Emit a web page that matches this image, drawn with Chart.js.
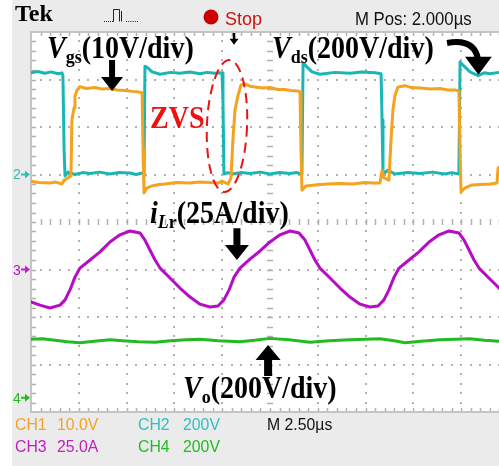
<!DOCTYPE html>
<html><head><meta charset="utf-8">
<script src="https://cdn.jsdelivr.net/npm/chart.js@4.4.1/dist/chart.umd.min.js"></script>
<style>
html,body{margin:0;padding:0;background:#fff;overflow:hidden;}
#wrap{position:relative;width:499px;height:466px;overflow:hidden;background:#fff;}
#panel{position:absolute;left:12px;top:0;width:520px;height:466px;background:#ebebeb;}
canvas{position:absolute;left:0;top:0;}
.t{position:absolute;white-space:nowrap;}
.ann{font-family:"Liberation Serif","Times New Roman",serif;font-weight:bold;font-size:28px;line-height:28px;color:#000;transform:scaleY(1.1);transform-origin:0 23.5px;}
.sub{font-size:18px;position:relative;top:5px;}
.ui{font-family:"Liberation Sans",Arial,sans-serif;font-size:17px;line-height:17px;transform:scaleX(0.93);transform-origin:0 0;}
.mk{font-family:"Liberation Sans",Arial,sans-serif;font-size:14px;line-height:14px;}
</style></head>
<body><div id="wrap"><div id="panel"></div><canvas id="c" width="520" height="466"></canvas>
<div class="t" style="left:15px;top:1px;font-family:'Liberation Serif',serif;font-weight:bold;font-size:24px;line-height:24px;">Tek</div>
<div class="t ui" style="left:225px;top:10px;font-size:18px;line-height:18px;color:#cc1111;transform:none;">Stop</div>
<div class="t ui" style="left:355px;top:10px;font-size:18px;line-height:18px;color:#111;">M Pos: 2.000µs</div>

<div class="t ann" style="left:47px;top:34.5px;"><i>V</i><span class="sub">gs</span>(10V/div)</div>
<div class="t ann" style="left:272px;top:34.5px;"><i>V</i><span class="sub">ds</span>(200V/div)</div>
<div class="t ann" style="left:150px;top:104.5px;color:#ee1111;">ZVS</div>
<div class="t ann" style="left:150px;top:199.5px;"><i>i</i><span class="sub"><i>L</i>r</span>(25A/div)</div>
<div class="t ann" style="left:183px;top:374.5px;"><i>V</i><span class="sub">o</span>(200V/div)</div>

<div class="t mk" style="left:13px;top:167px;color:#2cbcbc;">2</div>
<div class="t mk" style="left:13px;top:263px;color:#b812c4;">3</div>
<div class="t mk" style="left:13px;top:391px;color:#22bb22;">4</div>

<div id="info"></div>
</div>
<script>
// ---- channel readouts ----
const chNames  = ['CH1','CH2','CH3','CH4'];
const chScales = ['10.0V','200V','25.0A','200V'];
const chColors = ['#f2a22a','#2cc0c0','#c020c0','#22bb22'];
const timebase = 'M 2.50µs';

// ---- traces: [time (µs), screen divisions from centre] ----
const vgsTrace = [[0.00,0.86],[0.40,0.83],[0.99,0.82],[1.30,0.84],[1.62,0.80],[1.73,0.88],[1.94,0.93],[2.09,0.97],[2.14,2.15],[2.25,2.40],[2.30,2.65],[2.41,2.78],[2.56,2.85],[2.90,2.81],[3.35,2.83],[3.70,2.80],[4.13,2.81],[4.50,2.78],[4.92,2.77],[5.30,2.75],[5.60,2.74],[5.81,2.72],[5.86,1.52],[5.91,0.61],[6.07,0.72],[6.33,0.76],[6.70,0.79],[7.01,0.80],[7.60,0.83],[8.32,0.82],[8.80,0.84],[9.36,0.83],[9.78,0.82],[9.99,0.86],[10.30,0.80],[10.46,0.93],[10.56,1.73],[10.67,2.36],[10.83,2.67],[10.98,2.88],[11.19,2.91],[11.45,2.86],[11.72,2.84],[12.10,2.82],[12.50,2.83],[12.90,2.79],[13.28,2.79],[13.60,2.77],[13.96,2.76],[14.07,2.74],[14.12,1.52],[14.17,0.67],[14.38,0.76],[14.85,0.78],[15.50,0.80],[16.16,0.81],[16.80,0.80],[17.47,0.83],[17.90,0.82],[18.25,0.82],[18.36,1.09],[18.46,0.93],[18.72,0.88],[18.83,1.73],[18.93,2.36],[19.04,2.67],[19.19,2.84],[19.56,2.87],[19.90,2.83],[20.35,2.82],[20.90,2.80],[21.39,2.81],[21.80,2.78],[22.18,2.78],[22.38,2.76],[22.44,1.52],[22.49,0.63],[22.70,0.72],[23.06,0.78],[23.50,0.79],[24.01,0.80],[24.37,0.82],[24.43,1.14],[24.60,1.14]];

const vdsTrace = [[0.00,3.14],[0.35,3.17],[0.73,3.13],[1.05,3.16],[1.41,3.12],[1.62,3.14],[1.67,3.07],[1.73,1.52],[1.78,0.97],[1.94,1.05],[2.30,1.00],[2.70,1.04],[3.09,1.02],[3.60,1.05],[4.13,1.01],[4.60,1.04],[5.18,1.03],[5.50,1.00],[5.81,1.03],[5.91,1.01],[5.96,3.28],[6.12,3.24],[6.33,3.16],[6.75,3.11],[7.30,3.15],[7.79,3.13],[8.30,3.16],[8.84,3.12],[9.20,3.15],[9.62,3.13],[9.99,3.14],[10.04,2.57],[10.09,1.01],[10.30,1.04],[10.51,1.01],[11.00,1.04],[11.45,1.02],[12.00,1.05],[12.50,1.01],[13.00,1.04],[13.55,1.02],[13.90,1.04],[14.17,1.01],[14.23,3.35],[14.44,3.26],[14.70,3.16],[15.11,3.11],[15.90,3.15],[16.68,3.13],[17.30,3.16],[17.99,3.14],[18.31,3.12],[18.36,2.15],[18.41,1.01],[18.67,1.09],[19.04,1.01],[19.70,1.04],[20.35,1.02],[21.00,1.05],[21.65,1.01],[22.00,1.04],[22.38,1.01],[22.44,3.37],[22.65,3.28],[22.96,3.16],[23.38,3.08],[23.70,3.14],[24.01,3.12],[24.48,3.15],[25.00,3.12]];

const iLrTrace = [[0.00,-1.68],[0.47,-1.75],[0.99,-1.81],[1.52,-1.75],[1.78,-1.64],[2.04,-1.43],[2.30,-1.16],[2.56,-0.97],[3.09,-0.80],[3.61,-0.63],[4.13,-0.42],[4.65,-0.27],[5.18,-0.19],[5.70,-0.23],[5.96,-0.38],[6.22,-0.59],[6.49,-0.80],[6.75,-0.97],[7.27,-1.18],[7.79,-1.39],[8.32,-1.58],[8.84,-1.73],[9.36,-1.79],[9.78,-1.77],[10.09,-1.64],[10.36,-1.43],[10.62,-1.16],[10.93,-0.97],[11.45,-0.78],[11.98,-0.61],[12.50,-0.42],[13.02,-0.27],[13.55,-0.19],[14.02,-0.23],[14.33,-0.38],[14.59,-0.59],[14.85,-0.80],[15.11,-0.97],[15.64,-1.18],[16.16,-1.39],[16.68,-1.58],[17.21,-1.73],[17.73,-1.79],[18.15,-1.77],[18.46,-1.64],[18.72,-1.43],[18.99,-1.16],[19.25,-0.97],[19.77,-0.80],[20.29,-0.63],[20.82,-0.42],[21.34,-0.27],[21.86,-0.19],[22.38,-0.23],[22.65,-0.38],[22.91,-0.59],[23.17,-0.80],[23.43,-0.97],[23.95,-1.18],[24.48,-1.39],[25.00,-1.58]];

const voTrace = [[0.00,-2.47],[0.60,-2.46],[1.26,-2.49],[1.90,-2.52],[2.56,-2.54],[3.30,-2.51],[4.13,-2.48],[4.80,-2.50],[5.60,-2.52],[6.49,-2.53],[7.30,-2.50],[8.10,-2.48],[8.84,-2.47],[9.80,-2.50],[10.93,-2.52],[11.70,-2.49],[12.50,-2.45],[13.50,-2.48],[14.59,-2.53],[15.60,-2.50],[16.68,-2.48],[17.50,-2.47],[18.25,-2.46],[19.00,-2.50],[19.56,-2.54],[20.40,-2.51],[21.39,-2.48],[22.20,-2.47],[22.96,-2.46],[23.70,-2.49],[24.48,-2.51],[25.00,-2.50]];

// ground markers: [channel index, level in divisions]
const groundMarkers = [[1,1.0],[2,-1.0],[3,-3.7]];

// ---- readout text ----
(function(){
  const info=document.getElementById('info');
  const rows=[[0,1],[2,3]];
  const rowTop=[415.6,437.6];
  const colLeft=[[15,57],[138,183]];
  rows.forEach((r,ri)=>r.forEach((ci,k)=>{
    [chNames[ci],chScales[ci]].forEach((s,j)=>{
      const d=document.createElement('div');
      d.className='t ui'; d.textContent=s;
      d.style.left=colLeft[k][j]+'px'; d.style.top=rowTop[ri]+'px'; d.style.color=chColors[ci];
      info.appendChild(d);
    });
  }));
  const m=document.createElement('div');
  m.className='t ui'; m.textContent=timebase; m.style.left='267px'; m.style.top=rowTop[0]+'px'; m.style.color='#111';
  info.appendChild(m);
})();

const toXY = a => a.map(p=>({x:p[0],y:p[1]}));

function arrow(ctx,x0,y0,x1,y1,sw,hw,hl){
  const dx=x1-x0,dy=y1-y0,L=Math.hypot(dx,dy),ux=dx/L,uy=dy/L,nx=-uy,ny=ux;
  const bx=x1-ux*hl,by=y1-uy*hl;
  ctx.beginPath();
  ctx.moveTo(x0+nx*sw/2,y0+ny*sw/2);
  ctx.lineTo(bx+nx*sw/2,by+ny*sw/2);
  ctx.lineTo(bx+nx*hw/2,by+ny*hw/2);
  ctx.lineTo(x1,y1);
  ctx.lineTo(bx-nx*hw/2,by-ny*hw/2);
  ctx.lineTo(bx-nx*sw/2,by-ny*sw/2);
  ctx.lineTo(x0-nx*sw/2,y0-ny*sw/2);
  ctx.closePath(); ctx.fill();
}

const scopeGrid = {
  id:'scopeGrid',
  beforeDatasetsDraw(chart){
    const {ctx,chartArea:a,scales:{x,y}}=chart;
    ctx.save();
    ctx.fillStyle='#fff'; ctx.fillRect(a.left,a.top,a.right-a.left,a.bottom-a.top);
    ctx.fillStyle='#b0b0b0';
    for(let k=1;k<10;k++){ if(k===5) continue;
      const px=Math.round(x.getPixelForValue(k*2.5));
      for(let j=1;j<40;j++){const py=Math.round(y.getPixelForValue(-4+j*0.2)); ctx.fillRect(px-1,py-1,2,2);} }
    for(let k=-3;k<=3;k++){ if(k===0) continue;
      const py=Math.round(y.getPixelForValue(k));
      for(let j=1;j<50;j++){const px=Math.round(x.getPixelForValue(j*0.5)); ctx.fillRect(px-1,py-1,2,2);} }
    ctx.strokeStyle='#b0b0b0'; ctx.lineWidth=1.5;
    const cy=Math.round(y.getPixelForValue(0)), cx=Math.round(x.getPixelForValue(12.5));
    ctx.beginPath();
    for(let j=1;j<50;j++){const px=Math.round(x.getPixelForValue(j*0.5))+0.5;
      ctx.moveTo(px,cy-3);ctx.lineTo(px,cy+3);
      ctx.moveTo(px,a.top);ctx.lineTo(px,a.top+4);
      ctx.moveTo(px,a.bottom);ctx.lineTo(px,a.bottom-4);}
    for(let j=1;j<40;j++){const py=Math.round(y.getPixelForValue(-4+j*0.2))+0.5;
      ctx.moveTo(cx-3,py);ctx.lineTo(cx+3,py);
      ctx.moveTo(a.left,py);ctx.lineTo(a.left+5,py);
      ctx.moveTo(a.right,py);ctx.lineTo(a.right-5,py);}
    ctx.stroke();
    ctx.strokeStyle='#c4c4c4'; ctx.lineWidth=2;
    ctx.strokeRect(a.left,a.top,a.right-a.left,a.bottom-a.top);
    // ground-level markers on the left edge
    groundMarkers.forEach(([ci,v])=>{
      const py=y.getPixelForValue(v);
      ctx.fillStyle=chColors[ci];
      ctx.fillRect(a.left-10,py-1,5,2);
      ctx.beginPath(); ctx.moveTo(a.left-6,py-4); ctx.lineTo(a.left-1,py); ctx.lineTo(a.left-6,py+4); ctx.closePath(); ctx.fill();
    });
    ctx.restore();
  },
  afterDatasetsDraw(chart){
    const {ctx,scales:{x,y}}=chart;
    const X=t=>x.getPixelForValue(t), Y=v=>y.getPixelForValue(v);
    ctx.save();
    ctx.fillStyle='#000'; ctx.strokeStyle='#000';
    arrow(ctx,X(4.24),Y(3.41),X(4.24),Y(2.76),6,22,14);
    arrow(ctx,X(10.77),Y(-0.13),X(10.77),Y(-0.80),7,24,15);
    arrow(ctx,X(12.40),Y(-3.24),X(12.40),Y(-2.59),8,25,15);
    arrow(ctx,X(10.62),Y(3.98),X(10.62),Y(3.73),2.5,9,6);
    ctx.lineWidth=6; ctx.lineCap='butt';
    ctx.beginPath(); ctx.moveTo(X(21.76),Y(3.77));
    ctx.quadraticCurveTo(X(23.17),Y(3.87),X(23.38),Y(3.43)); ctx.stroke();
    ctx.beginPath();
    ctx.moveTo(X(22.70),Y(3.48)); ctx.lineTo(X(24.10),Y(3.48)); ctx.lineTo(X(23.40),Y(3.10)); ctx.closePath(); ctx.fill();
    ctx.strokeStyle='#ee1111'; ctx.lineWidth=2; ctx.setLineDash([10,6]);
    ctx.beginPath();
    ctx.ellipse(X(10.25),Y(2.02),X(10.25)-X(9.20),Y(0.63)-Y(2.02),0.04,0,Math.PI*2);
    ctx.stroke(); ctx.setLineDash([]);
    ctx.fillStyle='#222';
    for(let i=0;i<4;i++) ctx.fillRect(104+i*2,21,1,1);
    for(let i=0;i<6;i++) ctx.fillRect(126+i*2.2,21,1,1);
    ctx.strokeStyle='#222'; ctx.lineWidth=1;
    ctx.beginPath(); ctx.moveTo(112,21.5); ctx.lineTo(113.5,21.5); ctx.lineTo(113.5,9.5); ctx.lineTo(119.5,9.5); ctx.lineTo(119.5,21.5);
    ctx.moveTo(121.5,21.5); ctx.lineTo(121.5,11); ctx.stroke();
    ctx.fillStyle='#cc0000'; ctx.beginPath(); ctx.arc(211,17,7.5,0,Math.PI*2); ctx.fill();
    ctx.restore();
  }
};

new Chart(document.getElementById('c'),{
  type:'line',
  data:{datasets:[
    {label:'Vgs',data:toXY(vgsTrace),borderColor:'#f5a21e',order:1},
    {label:'Vds',data:toXY(vdsTrace),borderColor:'#1ab6b6',order:2},
    {label:'iLr',data:toXY(iLrTrace),borderColor:'#b60cc4',order:3},
    {label:'Vo',data:toXY(voTrace),borderColor:'#22bb22',order:4}
  ]},
  options:{
    responsive:false,animation:false,devicePixelRatio:1,
    layout:{padding:{left:31,top:32,right:11,bottom:54}},
    elements:{point:{radius:0},line:{borderWidth:3,tension:0,borderJoinStyle:'round',borderCapStyle:'round'}},
    plugins:{legend:{display:false},tooltip:{enabled:false}},
    scales:{
      x:{type:'linear',min:0,max:25,display:false},
      y:{type:'linear',min:-4,max:4,display:false}
    }
  },
  plugins:[scopeGrid]
});
</script>
</body></html>
